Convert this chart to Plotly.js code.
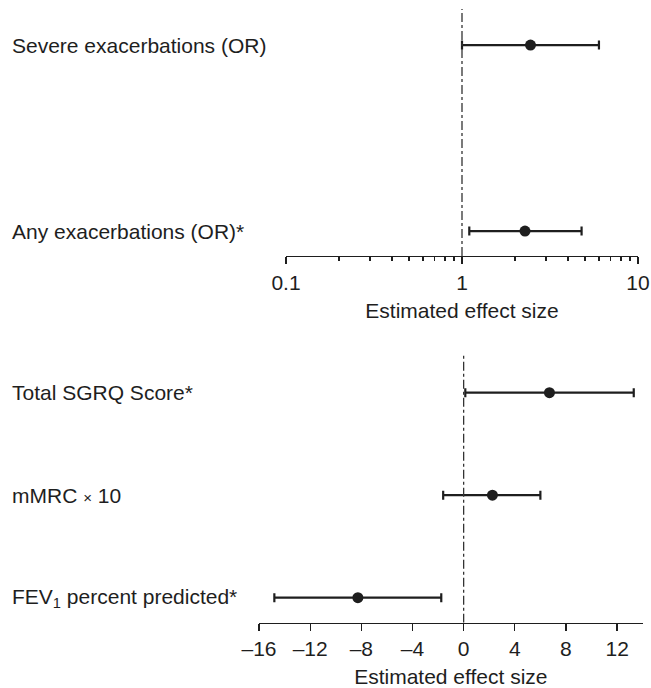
<!DOCTYPE html>
<html>
<head>
<meta charset="utf-8">
<script src="https://cdn.plot.ly/plotly-3.0.1.min.js"></script>
<style>html,body{margin:0;padding:0;background:#fff;}#chart{width:651px;height:688px;}</style>
</head>
<body>
<div id="chart"></div>
<script>
// Top panel: odds ratios (log scale)
var topCategories = ["Any exacerbations (OR)*", "Severe exacerbations (OR)"];
var topEstimate = [2.28, 2.45];
var topLower = [1.10, 1.00];
var topUpper = [4.78, 6.00];

// Bottom panel: continuous outcomes
var botCategories = ["FEV<sub>1</sub> percent predicted*", "mMRC <span style='font-size:15px'>\u00d7</span> 10", "Total SGRQ Score*"];
var botEstimate = [-8.27, 2.25, 6.71];
var botLower = [-14.8, -1.6, 0.13];
var botUpper = [-1.75, 6.0, 13.3];

var topTickVals = [0.1, 1, 10];
var topTickText = ['0.1', '1', '10'];
var botTickVals = [-16, -12, -8, -4, 0, 4, 8, 12];
var botTickText = ['\u201316', '\u201312', '\u20138', '\u20134', '0', '4', '8', '12'];
var refTop = 1, refBot = 0;

var topYRange = [-0.134, 1.194];
var botYRange = [-0.244, 2.387];

var ink = '#1e1e1e';
var fontFam = 'Liberation Sans, Arial, Helvetica, sans-serif';
var fs = 21;

function diff(a, b) { return a.map(function (v, i) { return v - b[i]; }); }

var traces = [
  {
    x: [refTop, refTop], y: topYRange, xaxis: 'x', yaxis: 'y3', mode: 'lines',
    line: {color: '#333', width: 1.3, dash: 'dashdot'}, hoverinfo: 'skip', showlegend: false
  },
  {
    x: [refBot, refBot], y: botYRange, xaxis: 'x2', yaxis: 'y4', mode: 'lines',
    line: {color: '#333', width: 1.3, dash: 'dashdot'}, hoverinfo: 'skip', showlegend: false
  },
  {
    x: topEstimate, y: topCategories, xaxis: 'x', yaxis: 'y', type: 'scatter', mode: 'markers',
    marker: {size: 11, color: ink},
    error_x: {type: 'data', symmetric: false, array: diff(topUpper, topEstimate),
              arrayminus: diff(topEstimate, topLower), color: ink, thickness: 2.2, width: 4.5},
    showlegend: false
  },
  {
    x: botEstimate, y: botCategories, xaxis: 'x2', yaxis: 'y2', type: 'scatter', mode: 'markers',
    marker: {size: 11, color: ink},
    error_x: {type: 'data', symmetric: false, array: diff(botUpper, botEstimate),
              arrayminus: diff(botEstimate, botLower), color: ink, thickness: 2.2, width: 4.5},
    showlegend: false
  }
];

var annotations = [];
topCategories.forEach(function (c) {
  annotations.push({xref: 'paper', yref: 'y', x: 10 / 651, y: c, text: c, showarrow: false,
    xanchor: 'left', yanchor: 'middle', font: {family: fontFam, size: fs, color: ink}});
});
botCategories.forEach(function (c) {
  annotations.push({xref: 'paper', yref: 'y2', x: 10 / 651, y: c, text: c, showarrow: false,
    xanchor: 'left', yanchor: 'middle', font: {family: fontFam, size: fs, color: ink}});
});

var layout = {
  width: 651, height: 688,
  margin: {l: 0, r: 0, t: 0, b: 0},
  paper_bgcolor: '#fff', plot_bgcolor: '#fff',
  font: {family: fontFam, size: fs, color: ink},
  showlegend: false,
  xaxis: {
    type: 'log', domain: [286 / 651, 638 / 651], anchor: 'y', range: [-1, 1],
    tickvals: topTickVals, ticktext: topTickText,
    showline: true, linecolor: ink, linewidth: 1.3, ticks: 'outside', ticklen: 7, tickwidth: 1.3, tickcolor: ink,
    minor: {ticks: 'outside', ticklen: 4, tickwidth: 1.2, tickcolor: ink, dtick: 'D1', showgrid: false},
    showgrid: false, zeroline: false, tickfont: {size: fs},
    title: {text: 'Estimated effect size', font: {size: fs}, standoff: 10}
  },
  yaxis: {
    domain: [(688 - 256) / 688, (688 - 9) / 688], anchor: 'x', type: 'category',
    categoryorder: 'array', categoryarray: topCategories, range: topYRange,
    showticklabels: false, ticks: '', showgrid: false, zeroline: false, showline: false
  },
  yaxis3: {
    domain: [(688 - 256) / 688, (688 - 9) / 688], anchor: 'x', overlaying: 'y', range: topYRange,
    visible: false
  },
  xaxis2: {
    domain: [259 / 651, 642.7 / 651], anchor: 'y2', range: [-16, 14],
    tickvals: botTickVals, ticktext: botTickText,
    showline: true, linecolor: ink, linewidth: 1.3, ticks: 'outside', ticklen: 7, tickwidth: 1.3, tickcolor: ink,
    showgrid: false, zeroline: false, tickfont: {size: fs},
    title: {text: 'Estimated effect size', font: {size: fs}, standoff: 10}
  },
  yaxis2: {
    domain: [(688 - 622.7) / 688, (688 - 353) / 688], anchor: 'x2', type: 'category',
    categoryorder: 'array', categoryarray: botCategories, range: botYRange,
    showticklabels: false, ticks: '', showgrid: false, zeroline: false, showline: false
  },
  yaxis4: {
    domain: [(688 - 622.7) / 688, (688 - 353) / 688], anchor: 'x2', overlaying: 'y2', range: botYRange,
    visible: false
  },
  annotations: annotations
};

Plotly.newPlot('chart', traces, layout, {displayModeBar: false, staticPlot: true});
</script>
</body>
</html>
